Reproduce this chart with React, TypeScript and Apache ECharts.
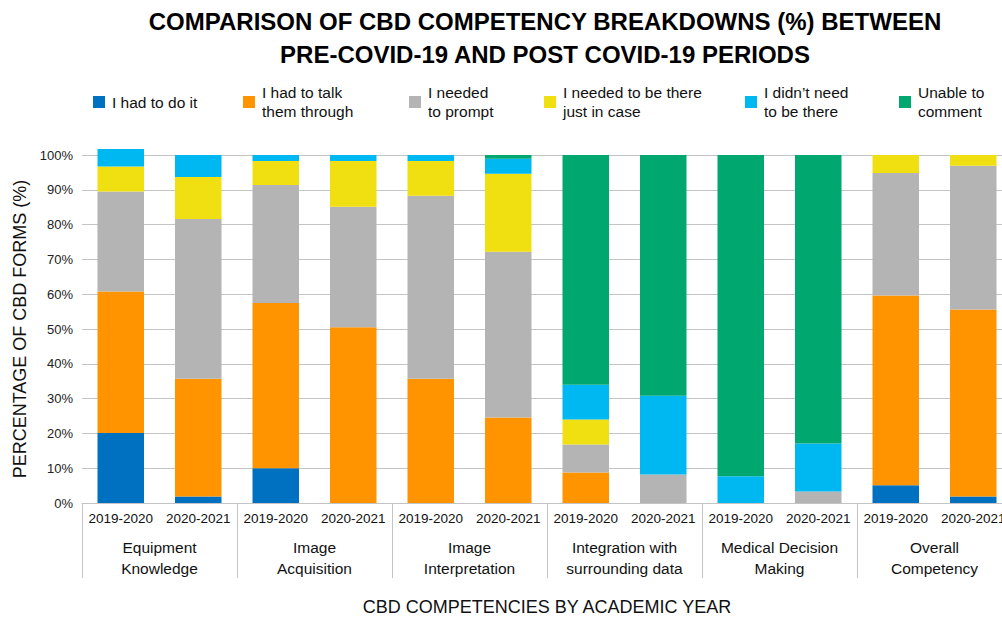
import React, { useEffect, useRef } from "react";
import * as echarts from "echarts";

const years = [
  "2019-2020", "2020-2021", "2019-2020", "2020-2021", "2019-2020", "2020-2021",
  "2019-2020", "2020-2021", "2019-2020", "2020-2021", "2019-2020", "2020-2021",
];
const competencies = [
  "Equipment\nKnowledge",
  "Image\nAcquisition",
  "Image\nInterpretation",
  "Integration with\nsurrounding data",
  "Medical Decision\nMaking",
  "Overall\nCompetency",
];
const seriesNames = [
  "I had to do it",
  "I had to talk them through",
  "I needed to prompt",
  "I needed to be there just in case",
  "I didn’t need to be there",
  "Unable to comment",
];
const legendLabels = [
  "I had to do it",
  "I had to talk\nthem through",
  "I needed\nto prompt",
  "I needed to be there\njust in case",
  "I didn’t need\nto be there",
  "Unable to\ncomment",
];
const hadToDo = [20.1, 1.9, 10.0, 0, 0, 0, 0, 0, 0, 0, 5.1, 1.9];
const talkThrough = [40.7, 33.8, 47.5, 50.5, 35.7, 24.6, 8.8, 0, 0, 0, 54.5, 53.7];
const prompt = [28.7, 45.9, 33.9, 34.6, 52.6, 47.6, 8.0, 8.2, 0, 3.3, 35.2, 41.3];
const justInCase = [7.2, 12.1, 6.9, 13.2, 10.0, 22.4, 7.2, 0, 0, 0, 5.2, 3.1];
const didntNeed = [5.0, 6.3, 1.7, 1.7, 1.7, 4.3, 10.0, 22.6, 7.7, 13.8, 0, 0];
const unable = [0, 0, 0, 0, 0, 1.1, 66.0, 69.2, 92.3, 82.9, 0, 0];
const yTicks = [0, 10, 20, 30, 40, 50, 60, 70, 80, 90, 100];

const seriesData = [hadToDo, talkThrough, prompt, justInCase, didntNeed, unable];
const colors = ["#0070C0", "#FF9300", "#B4B4B4", "#F0E011", "#00B8F1", "#00A870"];
const legendLeft = [93, 243, 409, 544, 745, 899];

const FONT = "'Liberation Sans', Arial, Helvetica, sans-serif";

export default function App() {
  const ref = useRef<HTMLDivElement>(null);
  useEffect(() => {
    if (!ref.current) return;
    const chart = echarts.init(ref.current, undefined, { renderer: "svg" });
    const option: any = {
      animation: false,
      textStyle: { fontFamily: FONT },
      title: {
        text: "COMPARISON OF CBD COMPETENCY BREAKDOWNS (%) BETWEEN\nPRE-COVID-19 AND POST COVID-19 PERIODS",
        left: 545,
        top: 5,
        padding: 0,
        textAlign: "center",
        textStyle: { fontFamily: FONT, fontSize: 24, fontWeight: "bold", color: "#000", lineHeight: 33 },
      },
      legend: seriesNames.map((n, i) => ({
        data: [n],
        left: legendLeft[i],
        top: legendLabels[i].includes("\n") ? 83 : 92.5,
        padding: 0,
        itemWidth: 12,
        itemHeight: 12,
        itemGap: 0,
        icon: "rect",
        selectedMode: false,
        formatter: () => legendLabels[i],
        textStyle: { fontFamily: FONT, fontSize: 15.5, lineHeight: 19, color: "#111", padding: [0, 0, 0, 2] },
      })),
      grid: { left: 82, right: 18, top: 155, bottom: 116, containLabel: false, outerBoundsMode: "none" },
      xAxis: [
        {
          type: "category",
          data: years,
          position: "bottom",
          axisLine: { show: true, lineStyle: { color: "#c4c4c4", width: 1.2 } },
          axisTick: { show: false },
          axisLabel: { interval: 0, margin: 8, fontFamily: FONT, fontSize: 13.5, color: "#111" },
        },
        {
          type: "category",
          data: competencies,
          position: "bottom",
          axisLine: { show: false },
          axisTick: { show: true, length: 75, interval: 0, lineStyle: { color: "#c4c4c4", width: 1 } },
          axisLabel: { interval: 0, margin: 34, fontFamily: FONT, fontSize: 15.5, lineHeight: 21, color: "#111" },
          name: "CBD COMPETENCIES BY ACADEMIC YEAR",
          nameLocation: "middle",
          nameGap: 95,
          nameTextStyle: { fontFamily: FONT, fontSize: 18, color: "#111" },
        },
      ],
      yAxis: {
        type: "value",
        min: yTicks[0],
        max: yTicks[yTicks.length - 1],
        interval: 10,
        axisLine: { show: false },
        axisTick: { show: false },
        splitLine: { show: true, lineStyle: { color: "#c4c4c4", width: 1.2 } },
        axisLabel: { formatter: "{value}%", margin: 9, fontFamily: FONT, fontSize: 13, color: "#222" },
        name: "PERCENTAGE OF CBD FORMS (%)",
        nameLocation: "middle",
        nameGap: 51,
        nameTextStyle: { fontFamily: FONT, fontSize: 18, color: "#111" },
      },
      series: seriesNames.map((n, i) => ({
        name: n,
        type: "bar",
        stack: "total",
        xAxisIndex: 0,
        data: seriesData[i],
        barWidth: "60%",
        clip: false,
        itemStyle: { color: colors[i] },
      })),
    };
    chart.setOption(option);
    return () => chart.dispose();
  }, []);
  return (
    <div style={{ position: "fixed", left: 0, top: 0, width: 1002, height: 619, overflow: "hidden", background: "#fff" }}>
      <div ref={ref} style={{ width: 1030, height: 619 }} />
    </div>
  );
}
